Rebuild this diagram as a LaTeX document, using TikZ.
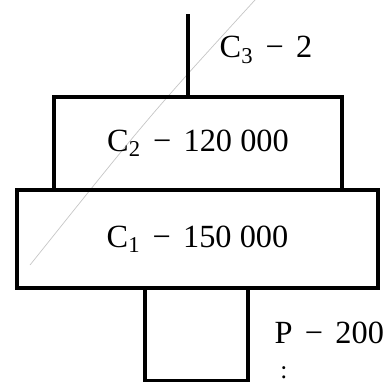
\documentclass[tikz,border=0pt]{standalone}
\usepackage{fontspec}
\setmainfont{Liberation Serif}
\usetikzlibrary{positioning}

\newcommand{\gap}{\hspace{0.38em}}
\tikzset{
  blk/.style={draw, rectangle, line width=2.3pt, inner sep=0pt},
  lbl/.style={font=\fontsize{23}{26}\selectfont, inner sep=0pt}
}

\begin{document}
\begin{tikzpicture}[x=0.025cm, y=-0.025cm, line width=2.3pt]
  \useasboundingbox (0,0) rectangle (389,382);
  % stray scan line
  \draw[gray!45, line width=0.5pt] (255,0) .. controls (150,115) .. (30,265);
  \node[blk, minimum width=7.2cm, minimum height=2.325cm] (c2) at (198,143.5) {};
  \node[blk, minimum width=9.025cm, minimum height=2.45cm] (c1) at (197.5,239) {};
  \node[blk, minimum width=2.575cm, minimum height=2.325cm] (p) at (196.5,334) {};
  \node[lbl] at (c2.center) {C\textsubscript{2}\gap−\gap120 000};
  \node[lbl] at (c1.center) {C\textsubscript{1}\gap−\gap150 000};
  \coordinate (top) at (188,14);
  \draw (top) -- (top |- c2.north);
  \node[lbl] (c3lbl) at (266,50) {C\textsubscript{3}\gap−\gap2};
  \node[lbl, anchor=west] (plbl) at (273,333) {P\gap−\gap200};
  \node[lbl, font=\fontsize{18}{20}\selectfont, anchor=base] (dots) at (284,378) {:};
\end{tikzpicture}
\end{document}
